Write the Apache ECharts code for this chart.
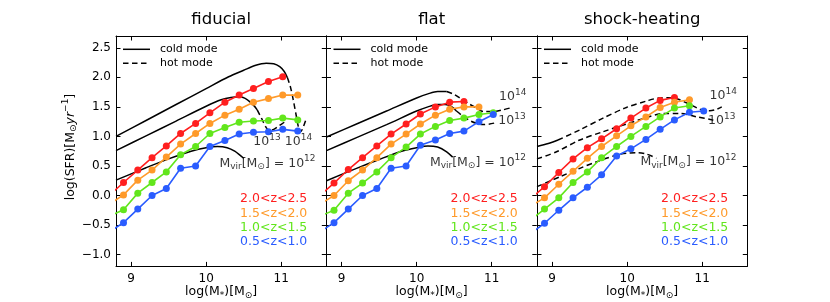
<!DOCTYPE html>
<html><head><meta charset="utf-8">
<script src="https://cdn.jsdelivr.net/npm/echarts@6/dist/echarts.min.js"></script>
<style>html,body{margin:0;padding:0;background:#fff}#c{width:830px;height:302px}</style>
</head><body><div id="c"></div>
<script>
// ---------- data ----------
const panelTitles = ['fiducial', 'flat', 'shock-heating'];
const xTicks = [9, 10, 11];
const yTicks = [-1.0, -0.5, 0.0, 0.5, 1.0, 1.5, 2.0, 2.5];
const zBins = ['2.0<z<2.5', '1.5<z<2.0', '1.0<z<1.5', '0.5<z<1.0'];
const mass = [8.71, 8.9, 9.09, 9.28, 9.47, 9.66, 9.86, 10.05, 10.25, 10.44, 10.63, 10.83, 11.02, 11.22];

const fidZ25 = [0.0, 0.22, 0.43, 0.64, 0.84, 1.05, 1.22, 1.40, 1.58, 1.70, 1.81, 1.93, 2.01];
const fidZ20 = [-0.15, 0.01, 0.26, 0.43, 0.65, 0.87, 1.05, 1.22, 1.36, 1.46, 1.58, 1.64, 1.70, 1.70];
const fidZ15 = [-0.35, -0.24, 0.04, 0.22, 0.40, 0.69, 0.83, 1.05, 1.15, 1.24, 1.26, 1.27, 1.31, 1.28];
const fidZ10 = [-0.62, -0.46, -0.23, 0.0, 0.12, 0.46, 0.50, 0.83, 0.93, 1.04, 1.07, 1.08, 1.12, 1.09];

const flatZ25 = [0.0, 0.21, 0.44, 0.64, 0.84, 1.04, 1.21, 1.38, 1.50, 1.58, 1.59];
const flatZ20 = [-0.15, 0.0, 0.25, 0.43, 0.64, 0.87, 1.04, 1.21, 1.36, 1.46, 1.50, 1.50];
const flatZ15 = [-0.35, -0.25, 0.04, 0.21, 0.40, 0.64, 0.82, 1.04, 1.17, 1.27, 1.31, 1.37, 1.40];
const flatZ10 = [-0.62, -0.46, -0.23, 0.0, 0.12, 0.46, 0.50, 0.85, 0.94, 1.05, 1.09, 1.25, 1.37];

const shockZ25 = [-0.06, 0.15, 0.39, 0.62, 0.81, 0.96, 1.13, 1.31, 1.48, 1.61, 1.66];
const shockZ20 = [-0.18, -0.04, 0.19, 0.41, 0.63, 0.83, 1.01, 1.18, 1.33, 1.49, 1.58, 1.62];
const shockZ15 = [-0.42, -0.23, -0.04, 0.22, 0.40, 0.64, 0.83, 1.00, 1.17, 1.33, 1.48, 1.52];
const shockZ10 = [-0.65, -0.47, -0.25, -0.04, 0.14, 0.35, 0.67, 0.79, 0.95, 1.12, 1.28, 1.41, 1.43];

// model curves: [logM*, logSFR]
const fidCold14 = [[8.8,1.0],[9.2,1.27],[9.6,1.54],[10.0,1.81],[10.3,2.01],[10.5,2.12],[10.65,2.2],[10.8,2.24],[10.9,2.23],[10.98,2.18],[11.04,2.1],[11.08,2.0]];
const fidHot14 = [[11.08,2.0],[11.12,1.85],[11.16,1.62],[11.2,1.35],[11.23,1.15],[11.25,1.08],[11.28,1.12],[11.33,1.29]];
const fidCold13 = [[8.8,0.76],[9.2,1.01],[9.6,1.26],[10.0,1.51],[10.2,1.62],[10.33,1.66],[10.45,1.67],[10.55,1.62],[10.63,1.53],[10.68,1.45]];
const fidHot13 = [[10.68,1.45],[10.74,1.3],[10.8,1.15],[10.84,1.1],[10.9,1.12],[10.97,1.18],[11.04,1.24]];
const fidCold12 = [[8.8,0.26],[9.2,0.47],[9.5,0.62],[9.8,0.75],[10.0,0.81],[10.15,0.83],[10.28,0.81],[10.38,0.75],[10.5,0.63]];

const flatCold14 = [[8.8,0.99],[9.2,1.21],[9.6,1.43],[10.0,1.65],[10.15,1.72],[10.28,1.76],[10.4,1.76]];
const flatHot14 = [[10.4,1.76],[10.5,1.71],[10.58,1.645],[10.7,1.55],[10.8,1.48],[10.89,1.42],[11.02,1.42],[11.15,1.45],[11.27,1.49]];
const flatCold13 = [[8.8,0.76],[9.2,0.98],[9.6,1.2],[10.0,1.43],[10.15,1.5],[10.28,1.54],[10.38,1.54],[10.47,1.5],[10.53,1.43]];
const flatHot13 = [[10.53,1.43],[10.62,1.34],[10.72,1.26],[10.8,1.22],[10.89,1.2],[10.97,1.21],[11.05,1.23]];
const flatCold12 = [[8.8,0.25],[9.2,0.46],[9.5,0.61],[9.8,0.75],[10.0,0.81],[10.15,0.84],[10.28,0.82],[10.4,0.74],[10.48,0.65]];

const shockCold14 = [[8.8,0.83],[8.95,0.88],[9.08,0.94]];
const shockHot14 = [[9.08,0.94],[9.37,1.11],[9.68,1.31],[9.99,1.49],[10.26,1.6],[10.42,1.65],[10.6,1.655],[10.79,1.57],[10.97,1.46],[11.1,1.435],[11.19,1.46],[11.26,1.5]];
const shockHot13 = [[8.8,0.62],[9.06,0.74],[9.37,0.94],[9.68,1.08],[9.99,1.21],[10.26,1.32],[10.48,1.39],[10.7,1.39],[10.93,1.33],[11.13,1.28],[11.19,1.25]];
const shockHot12 = [[8.8,0.15],[9.11,0.32],[9.37,0.46],[9.59,0.57],[9.86,0.685],[9.99,0.715],[10.13,0.725],[10.26,0.70],[10.39,0.63]];

// ---------- layout / style ----------
const FONT = 'DejaVu Sans';
const zColors = ['#ff1f1f', '#ff9a2a', '#62e61c', '#2a5cff'];
const L = [116, 326.5, 537], W = 210.3, TOP = 36, H = 230.4;
const dash = [5.5, 3.5];

const panels = [
  {obs: [fidZ25, fidZ20, fidZ15, fidZ10], cold: [fidCold14, fidCold13, fidCold12], hot: [fidHot14, fidHot13],
   ann: [[[10.81, 0.905], '13'], [[11.23, 0.905], '14']], mvir: [10.17, 0.54]},
  {obs: [flatZ25, flatZ20, flatZ15, flatZ10], cold: [flatCold14, flatCold13, flatCold12], hot: [flatHot14, flatHot13],
   ann: [[[11.28, 1.67], '14'], [[11.27, 1.26], '13']], mvir: [10.17, 0.56]},
  {obs: [shockZ25, shockZ20, shockZ15, shockZ10], cold: [shockCold14], hot: [shockHot14, shockHot13, shockHot12],
   ann: [[[11.28, 1.69], '14'], [[11.26, 1.26], '13']], mvir: [10.17, 0.57]}
];

const tok = (extra) => Object.assign({fontFamily: FONT, color: '#000', textBorderWidth: 0, textShadowBlur: 0}, extra);
const rich = {
  n: tok({fontSize: 12.5}),
  s: tok({fontSize: 9, padding: [0, 0, 9, 0]}),
  b: tok({fontSize: 9, padding: [7, 0, 0, 0]}),
  i: tok({fontSize: 12.5, fontStyle: 'italic'})
};

const grid = [], xAxis = [], yAxis = [], series = [], graphic = [];
const fmtY = v => (Math.abs(v) < 1e-9 ? '0.0' : v.toFixed(1).replace('-', '\u2212'));

panels.forEach((p, k) => {
  grid.push({left: L[k], top: TOP, width: W, height: H, containLabel: false});
  const axLine = {show: true, onZero: false, lineStyle: {color: '#000', width: 1}};
  xAxis.push({type: 'value', gridIndex: k, position: 'bottom', min: 8.8, max: 11.6,
    axisLine: axLine, splitLine: {show: false},
    axisTick: {show: true, inside: true, length: 4.5, customValues: xTicks, lineStyle: {color: '#000'}},
    axisLabel: {show: true, customValues: xTicks, color: '#000', fontSize: 12, fontFamily: FONT, margin: 6}});
  xAxis.push({type: 'value', gridIndex: k, position: 'top', min: 8.8, max: 11.6,
    axisLine: axLine, splitLine: {show: false},
    axisTick: {show: true, inside: true, length: 4.5, customValues: xTicks, lineStyle: {color: '#000'}},
    axisLabel: {show: false}});
  yAxis.push({type: 'value', gridIndex: k, position: 'left', min: -1.2, max: 2.7,
    axisLine: axLine, splitLine: {show: false},
    axisTick: {show: true, inside: true, length: 4.5, customValues: yTicks, lineStyle: {color: '#000'}},
    axisLabel: {show: k === 0, customValues: yTicks, color: '#000', fontSize: 12, fontFamily: FONT, margin: 5, formatter: fmtY}});
  yAxis.push({type: 'value', gridIndex: k, position: 'right', min: -1.2, max: 2.7,
    axisLine: axLine, splitLine: {show: false},
    axisTick: {show: true, inside: true, length: 4.5, customValues: yTicks, lineStyle: {color: '#000'}},
    axisLabel: {show: false}});

  const xi = 2 * k, yi = 2 * k;
  p.cold.forEach(c => series.push({type: 'line', xAxisIndex: xi, yAxisIndex: yi, data: c, symbol: 'none',
    smooth: 0.3, lineStyle: {color: '#000', width: 1.5}, silent: true, z: 3}));
  p.hot.forEach(c => series.push({type: 'line', xAxisIndex: xi, yAxisIndex: yi, data: c, symbol: 'none',
    smooth: 0.3, lineStyle: {color: '#000', width: 1.5, type: dash}, silent: true, z: 3}));
  p.obs.forEach((vals, j) => series.push({type: 'line', xAxisIndex: xi, yAxisIndex: yi, clip: true,
    data: vals.map((v, i) => i === 0 ? {value: [mass[i], v], symbol: 'none'} : [mass[i], v]),
    symbol: 'circle', symbolSize: 7, showSymbol: true,
    lineStyle: {color: zColors[j], width: 1.6}, itemStyle: {color: zColors[j]}, silent: true, z: 4}));

  // halo-mass annotations
  const lab = (pos, text) => ({show: true, position: pos, distance: 0, color: '#000', textBorderWidth: 0,
    fontFamily: FONT, fontSize: 12.5, formatter: text, rich});
  const annData = p.ann.map(a => ({value: a[0], label: lab('inside', '{n|10}{s|' + a[1] + '}')}));
  annData.push({value: p.mvir, label: lab('right', '{n|M}{b|vir}{n|[M}{b|\u2299}{n|] = 10}{s|12}')});
  series.push({type: 'scatter', xAxisIndex: xi, yAxisIndex: yi, data: annData, symbol: 'circle', symbolSize: 1,
    itemStyle: {color: 'rgba(0,0,0,0)'}, silent: true, z: 5});

  // title
  graphic.push({type: 'text', x: L[k] + W / 2, y: 20, style: {text: panelTitles[k], font: '16.5px "DejaVu Sans"', fill: '#000', align: 'center', verticalAlign: 'middle'}});
  // x axis name
  graphic.push({type: 'text', x: L[k] + W / 2, y: 292, style: {text: '{n|log(M}{b|*}{n|)[M}{b|\u2299}{n|]}', rich, align: 'center', verticalAlign: 'middle'}});
  // mode legend
  graphic.push({type: 'line', shape: {x1: L[k] + 7, y1: 49.3, x2: L[k] + 34, y2: 49.3}, style: {stroke: '#000', lineWidth: 1.5}});
  graphic.push({type: 'line', shape: {x1: L[k] + 7, y1: 63.3, x2: L[k] + 34, y2: 63.3}, style: {stroke: '#000', lineWidth: 1.5, lineDash: dash}});
  graphic.push({type: 'text', x: L[k] + 44, y: 49.3, style: {text: 'cold mode', font: '11px "DejaVu Sans"', fill: '#000', verticalAlign: 'middle'}});
  graphic.push({type: 'text', x: L[k] + 44, y: 63.3, style: {text: 'hot mode', font: '11px "DejaVu Sans"', fill: '#000', verticalAlign: 'middle'}});
  // redshift labels
  const zy = [199, 213.3, 227.3, 241.7];
  zBins.forEach((t, j) => graphic.push({type: 'text', x: L[k] + 191.3, y: zy[j],
    style: {text: t, font: '12.5px "DejaVu Sans"', fill: zColors[j], align: 'right', verticalAlign: 'middle'}}));
});

// y axis name
graphic.push({type: 'text', x: 70.5, y: 147, rotation: Math.PI / 2,
  style: {text: '{n|log(SFR)[M}{b|\u2299}{i|yr}{s|\u22121}{n|]}', rich, align: 'center', verticalAlign: 'middle'}});

const chart = echarts.init(document.getElementById('c'), null, {renderer: 'canvas'});
chart.setOption({animation: false, backgroundColor: '#fff', grid, xAxis, yAxis, series, graphic});
</script></body></html>
